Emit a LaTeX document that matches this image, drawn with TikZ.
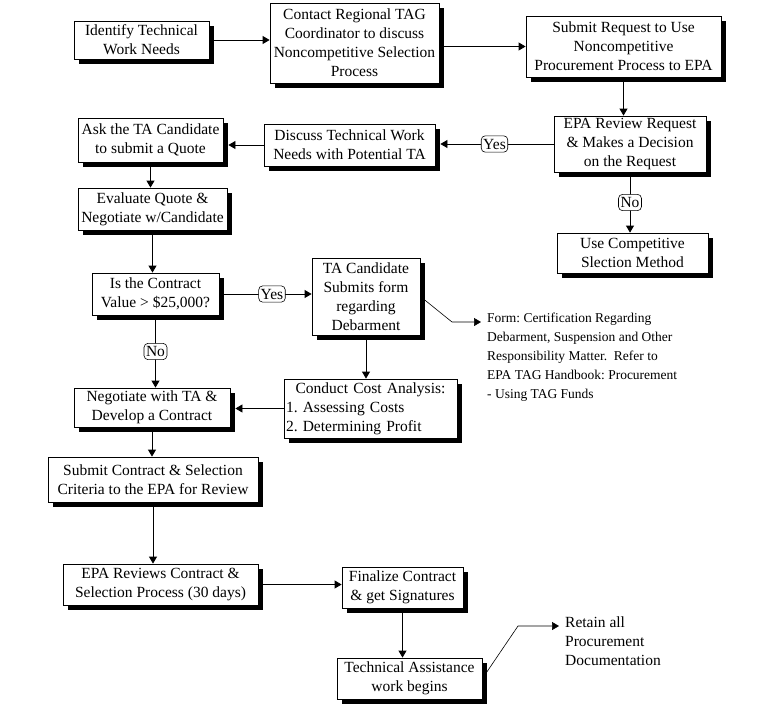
\documentclass[tikz,border=0pt]{standalone}
\usepackage{fontspec}
\setmainfont{Liberation Serif}
\usetikzlibrary{shadows,arrows.meta}
\begin{document}
\frenchspacing
\begin{tikzpicture}[x=1pt,y=-1pt,
  box/.style={draw,fill=white,line width=0.8pt,align=center,inner sep=1pt,
    font=\fontsize{15.5}{19}\selectfont,
    drop shadow={shadow xshift=5pt,shadow yshift=-5pt,fill=black,opacity=1}},
  lab/.style={draw,fill=white,rounded corners=4pt,inner xsep=2pt,inner ysep=3pt,line width=0.6pt,
    font=\fontsize{15.5}{19}\selectfont},
  plain/.style={align=left,inner sep=0pt,anchor=north west},
  arr/.style={line width=0.8pt,-{Triangle[length=7pt,width=8pt]}},
  intoshadow/.style={shorten >=5pt}]
\useasboundingbox (0,0) rectangle (770,725);
\node[box,minimum width=135pt,minimum height=38pt] (ident) at (141.5,40) {Identify Technical\\Work Needs};
\node[box,minimum width=169pt,minimum height=80pt] (contact) at (354.5,43) {Contact Regional TAG\\Coordinator to discuss\\Noncompetitive Selection\\Process};
\node[box,minimum width=195pt,minimum height=61pt] (submit) at (623.5,46.5) {Submit Request to Use\\Noncompetitive\\Procurement Process to EPA};
\node[box,minimum width=152pt,minimum height=56pt] (epareq) at (630,144) {EPA Review Request\\\& Makes a Decision\\on the Request};
\node[box,minimum width=151pt,minimum height=40pt] (usecomp) at (632.5,253) {Use Competitive\\Slection Method};
\node[box,minimum width=171pt,minimum height=42pt] (discuss) at (349.5,145) {Discuss Technical Work\\Needs with Potential TA};
\node[box,minimum width=145pt,minimum height=44pt] (ask) at (150.5,140) {Ask the TA Candidate\\to submit a Quote};
\node[box,minimum width=149pt,minimum height=42pt] (evaluate) at (152.5,209) {Evaluate Quote \&\\Negotiate w/Candidate};
\node[box,minimum width=127pt,minimum height=42pt] (isval) at (155.5,294) {Is the Contract\\Value > \$25,000?};
\node[box,minimum width=108pt,minimum height=77pt] (tacand) at (366,296.5) {TA Candidate\\Submits form\\regarding\\Debarment};
\node[box,minimum width=156pt,minimum height=39pt] (negotiate) at (152,407.5) {Negotiate with TA \&\\Develop a Contract};
\node[box,minimum width=173pt,minimum height=59pt,text width=169pt,align=left] (conduct) at (370.5,408.5) {\makebox[\linewidth][c]{Conduct Cost Analysis:}\\1. Assessing Costs\\2. Determining Profit};
\node[box,minimum width=210pt,minimum height=45pt] (subcontract) at (153,479.5) {Submit Contract \& Selection\\Criteria to the EPA for Review};
\node[box,minimum width=195pt,minimum height=41pt] (epareviews) at (160.5,584.5) {EPA Reviews Contract \&\\Selection Process (30 days)};
\node[box,minimum width=121pt,minimum height=41pt] (finalize) at (402.5,587.5) {Finalize Contract\\\& get Signatures};
\node[box,minimum width=145pt,minimum height=41pt] (taw) at (409.5,678.5) {Technical Assistance\\work begins};
\node[plain,font=\fontsize{13.5}{19}\selectfont] (form) at (487,313) {Form: Certification Regarding\\Debarment, Suspension and Other\\Responsibility Matter.\ \ Refer to\\EPA TAG Handbook: Procurement\\- Using TAG Funds};
\node[plain,font=\fontsize{15.5}{19}\selectfont] (retain) at (565,617) {Retain all\\Procurement\\Documentation};
\coordinate (formtip) at (481,322);
\coordinate (retaintip) at (559,626);
% connectors
\draw[arr] (ident.east) -- (ident.east -| contact.west);
\draw[arr] (contact.east |- submit.west) -- (submit.west);
\draw[arr] (submit.south) -- (submit.south |- epareq.north);
\draw[arr,intoshadow] (epareq.west) -- node[lab]{Yes} (epareq.west -| discuss.east);
\draw[arr] (epareq.south) -- node[lab]{No} (epareq.south |- usecomp.north);
\draw[arr,intoshadow] (discuss.west) -- (discuss.west -| ask.east);
\draw[arr] (ask.south) -- (ask.south |- evaluate.north);
\draw[arr] (evaluate.south) -- (evaluate.south |- isval.north);
\draw[arr] (isval.east) -- node[lab,pos=0.57]{Yes} (isval.east -| tacand.west);
\draw[arr] (isval.south) -- node[lab]{No} (isval.south |- negotiate.north);
\draw[arr] (tacand.south) -- (tacand.south |- conduct.north);
\draw[arr,intoshadow] (conduct.west) -- (conduct.west -| negotiate.east);
\draw[arr] (negotiate.south) -- (negotiate.south |- subcontract.north);
\draw[arr] (subcontract.south) -- (subcontract.south |- epareviews.north);
\draw[arr] (epareviews.east) -- (epareviews.east -| finalize.west);
\draw[arr] (finalize.south) -- (finalize.south |- taw.north);
\draw[arr,line width=0.6pt] (tacand.east) -- (452,322) -- (formtip);
\draw[arr,line width=0.6pt] (taw.east) -- (518,626) -- (retaintip);
\end{tikzpicture}
\end{document}
